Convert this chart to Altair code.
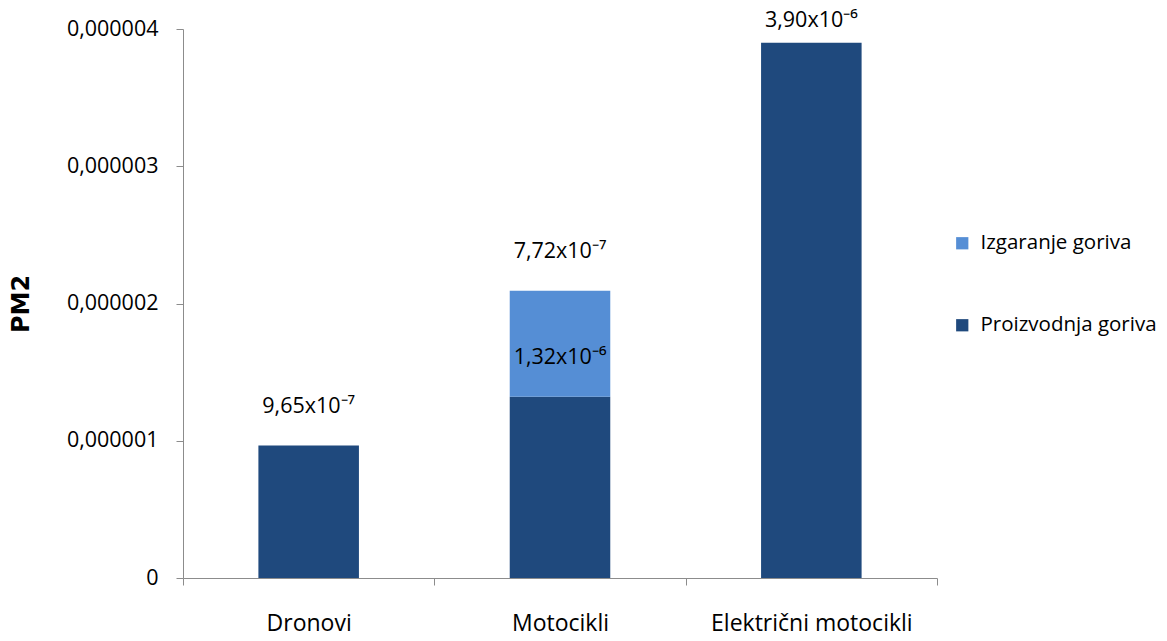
import altair as alt
import pandas as pd

categories = ["Dronovi", "Motocikli", "Električni motocikli"]
proizvodnja = [9.65e-7, 1.32e-6, 3.90e-6]
izgaranje = [0.0, 7.72e-7, 0.0]
proizvodnja_labels = ["9,65x10⁻⁷", "1,32x10⁻⁶", "3,90x10⁻⁶"]
izgaranje_labels = ["", "7,72x10⁻⁷", ""]
series = ["Izgaranje goriva", "Proizvodnja goriva"]
colors = ["#558ED5", "#1F497D"]

rows = []
for i, c in enumerate(categories):
    rows.append({"cat": c, "series": series[1], "value": proizvodnja[i], "ord": 0})
    rows.append({"cat": c, "series": series[0], "value": izgaranje[i], "ord": 1})
df = pd.DataFrame(rows)

lab_rows = []
for i, c in enumerate(categories):
    lab_rows.append({"cat": c, "top": proizvodnja[i], "label": proizvodnja_labels[i]})
    if izgaranje_labels[i]:
        lab_rows.append({"cat": c, "top": proizvodnja[i] + izgaranje[i], "label": izgaranje_labels[i]})
lab = pd.DataFrame(lab_rows)

FONT = "Open Sans"

x_enc = alt.X("cat:N", sort=categories, title=None,
              scale=alt.Scale(paddingInner=0, paddingOuter=0),
              axis=alt.Axis(labelAngle=0, labelFontSize=23, labelColor="#000000",
                            labelPadding=27, tickBand="extent", tickSize=7, grid=False,
                            labelLimit=400,
                            domainColor="#8c8c8c", tickColor="#8c8c8c", labelFont=FONT))

y_scale = alt.Scale(domain=[0, 4e-6], nice=False)

bars = alt.Chart(df).mark_bar(width=alt.RelativeBandSize(0.4)).encode(
    x=x_enc,
    y=alt.Y("sum(value):Q", scale=y_scale, stack="zero", title="PM2",
            axis=alt.Axis(values=[0, 1e-6, 2e-6, 3e-6, 4e-6], grid=False,
                          labelExpr="datum.value == 0 ? '0' : replace(format(datum.value, '.6f'), '.', ',')",
                          labelFontSize=21.5, labelColor="#000000", labelFont=FONT,
                          tickSize=7, labelPadding=18,
                          domainColor="#8c8c8c", tickColor="#8c8c8c",
                          titleFontSize=24, titleFont="DejaVu Sans", titleFontWeight="bold",
                          titleColor="#000000", titlePadding=33)),
    color=alt.Color("series:N", scale=alt.Scale(domain=series, range=colors),
                    legend=alt.Legend(title=None, orient="none", legendX=769, legendY=204,
                                      symbolType="square", symbolSize=150, symbolStrokeWidth=0,
                                      labelFontSize=20.5, labelFont=FONT, labelColor="#000000",
                                      labelLimit=400, rowPadding=61, labelOffset=8)),
    order=alt.Order("ord:Q"),
)

text_main = alt.Chart(lab[lab["cat"] != "Električni motocikli"]).mark_text(
    fontSize=21.5, font=FONT, color="#000000", baseline="middle", dy=-39
).encode(
    x=alt.X("cat:N", sort=categories),
    y=alt.Y("top:Q", scale=y_scale),
    text="label:N",
)

text_el = alt.Chart(lab[lab["cat"] == "Električni motocikli"]).mark_text(
    fontSize=21.5, font=FONT, color="#000000", baseline="middle", dy=-22
).encode(
    x=alt.X("cat:N", sort=categories),
    y=alt.Y("top:Q", scale=y_scale),
    text="label:N",
)

chart = alt.layer(bars, text_main, text_el).properties(
    width=754, height=549,
    padding={"left": 175, "top": 21, "right": 220, "bottom": 62},
    autosize=alt.AutoSizeParams(type="none"),
).configure(background="white").configure_view(stroke="transparent", strokeWidth=0)

chart.save("out.html", embed_options={"renderer": "svg", "actions": False})
